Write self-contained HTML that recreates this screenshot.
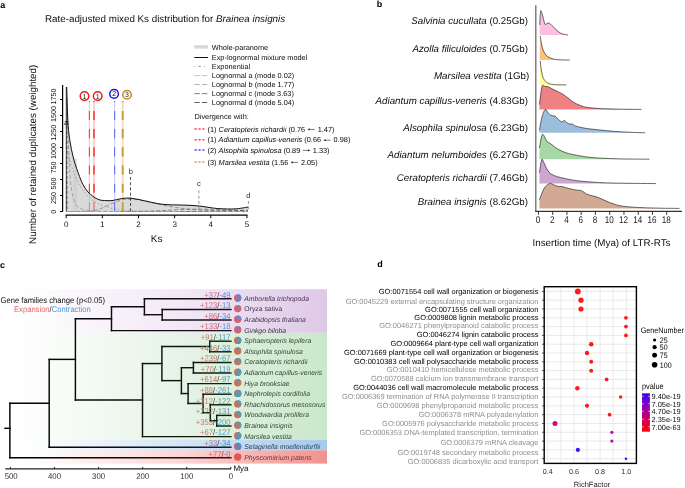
<!DOCTYPE html>
<html><head><meta charset="utf-8"><style>
html,body{margin:0;padding:0;background:#fff;width:685px;height:488px;overflow:hidden}
svg{display:block;font-family:"Liberation Sans", sans-serif;will-change:transform;text-rendering:geometricPrecision}
</style></head><body>
<svg width="685" height="488" viewBox="0 0 685 488">
<rect width="685" height="488" fill="#fff"/>
<text x="0.30" y="7.60" font-size="9" text-anchor="start" fill="#000" font-weight="bold" font-style="normal" >a</text>
<text x="45.00" y="22.00" font-size="9.8" text-anchor="start" fill="#0d0d0d" font-weight="normal" font-style="normal" >Rate-adjusted mixed Ks distribution for <tspan font-style="italic">Brainea insignis</tspan></text>
<text transform="translate(35.6,154.3) rotate(-90)" font-size="9.8" text-anchor="middle" fill="#0d0d0d">Number of retained duplicates (weighted)</text>
<line x1="62.6" y1="85" x2="62.6" y2="211.8" stroke="#000" stroke-width="1.2"/>
<line x1="60" y1="211.50" x2="62.6" y2="211.50" stroke="#000" stroke-width="1"/>
<text transform="translate(55.8,211.70) rotate(-90)" font-size="7.2" text-anchor="middle" fill="#111">0</text>
<line x1="60" y1="195.50" x2="62.6" y2="195.50" stroke="#000" stroke-width="1"/>
<text transform="translate(55.8,197.90) rotate(-90)" font-size="7.2" text-anchor="middle" fill="#111">250</text>
<line x1="60" y1="179.50" x2="62.6" y2="179.50" stroke="#000" stroke-width="1"/>
<text transform="translate(55.8,183.40) rotate(-90)" font-size="7.2" text-anchor="middle" fill="#111">500</text>
<line x1="60" y1="163.50" x2="62.6" y2="163.50" stroke="#000" stroke-width="1"/>
<text transform="translate(55.8,167.50) rotate(-90)" font-size="7.2" text-anchor="middle" fill="#111">750</text>
<line x1="60" y1="147.50" x2="62.6" y2="147.50" stroke="#000" stroke-width="1"/>
<text transform="translate(55.8,151.00) rotate(-90)" font-size="7.2" text-anchor="middle" fill="#111">1000</text>
<line x1="60" y1="131.50" x2="62.6" y2="131.50" stroke="#000" stroke-width="1"/>
<text transform="translate(55.8,132.80) rotate(-90)" font-size="7.2" text-anchor="middle" fill="#111">1250</text>
<line x1="60" y1="115.50" x2="62.6" y2="115.50" stroke="#000" stroke-width="1"/>
<text transform="translate(55.8,114.00) rotate(-90)" font-size="7.2" text-anchor="middle" fill="#111">1500</text>
<line x1="60" y1="99.50" x2="62.6" y2="99.50" stroke="#000" stroke-width="1"/>
<text transform="translate(55.8,96.60) rotate(-90)" font-size="7.2" text-anchor="middle" fill="#111">1750</text>
<line x1="65.6" y1="215.2" x2="247.5" y2="215.2" stroke="#000" stroke-width="1.2"/>
<line x1="66.20" y1="215.2" x2="66.20" y2="218.2" stroke="#000" stroke-width="1"/>
<text x="66.20" y="227.00" font-size="8" text-anchor="middle" fill="#111" font-weight="normal" font-style="normal" >0</text>
<line x1="102.35" y1="215.2" x2="102.35" y2="218.2" stroke="#000" stroke-width="1"/>
<text x="102.35" y="227.00" font-size="8" text-anchor="middle" fill="#111" font-weight="normal" font-style="normal" >1</text>
<line x1="138.50" y1="215.2" x2="138.50" y2="218.2" stroke="#000" stroke-width="1"/>
<text x="138.50" y="227.00" font-size="8" text-anchor="middle" fill="#111" font-weight="normal" font-style="normal" >2</text>
<line x1="174.65" y1="215.2" x2="174.65" y2="218.2" stroke="#000" stroke-width="1"/>
<text x="174.65" y="227.00" font-size="8" text-anchor="middle" fill="#111" font-weight="normal" font-style="normal" >3</text>
<line x1="210.80" y1="215.2" x2="210.80" y2="218.2" stroke="#000" stroke-width="1"/>
<text x="210.80" y="227.00" font-size="8" text-anchor="middle" fill="#111" font-weight="normal" font-style="normal" >4</text>
<line x1="246.95" y1="215.2" x2="246.95" y2="218.2" stroke="#000" stroke-width="1"/>
<text x="246.95" y="227.00" font-size="8" text-anchor="middle" fill="#111" font-weight="normal" font-style="normal" >5</text>
<text x="156.70" y="242.30" font-size="10" text-anchor="middle" fill="#0d0d0d" font-weight="normal" font-style="normal" >Ks</text>
<line x1="89.4" y1="101" x2="89.4" y2="211.5" stroke="#fcc6c6" stroke-width="1.1"/>
<line x1="89.4" y1="101" x2="89.4" y2="102.2" stroke="#f06060" stroke-width="1.1"/>
<line x1="89.4" y1="110.9" x2="89.4" y2="211.5" stroke="#ff3a3a" stroke-width="1.1" stroke-dasharray="9.1,9.1"/>
<line x1="94.0" y1="101" x2="94.0" y2="211.5" stroke="#fcc6c6" stroke-width="1.6"/>
<line x1="94.0" y1="101" x2="94.0" y2="102.2" stroke="#f06060" stroke-width="1.6"/>
<line x1="94.0" y1="110.9" x2="94.0" y2="211.5" stroke="#ff3a3a" stroke-width="1.6" stroke-dasharray="9.1,9.1"/>
<path d="M66.2,211.5 L66.2,150 L66.70,87.00 C66.88,92.50 67.30,111.25 67.80,120.00 C68.30,128.75 68.73,133.02 69.70,139.50 C70.67,145.98 71.97,152.75 73.60,158.90 C75.23,165.05 77.93,172.12 79.50,176.40 C81.07,180.68 81.72,182.17 83.00,184.60 C84.28,187.03 85.90,189.33 87.20,191.00 C88.50,192.67 89.50,193.47 90.80,194.60 C92.10,195.73 93.47,196.90 95.00,197.80 C96.53,198.70 98.40,199.55 100.00,200.00 C101.60,200.45 102.60,200.40 104.60,200.50 C106.60,200.60 109.18,200.92 112.00,200.60 C114.82,200.28 118.50,199.02 121.50,198.60 C124.50,198.18 126.92,197.90 130.00,198.10 C133.08,198.30 136.67,199.15 140.00,199.80 C143.33,200.45 146.67,201.30 150.00,202.00 C153.33,202.70 156.67,203.53 160.00,204.00 C163.33,204.47 166.67,204.63 170.00,204.80 C173.33,204.97 176.67,204.92 180.00,205.00 C183.33,205.08 186.67,205.12 190.00,205.30 C193.33,205.48 196.67,205.72 200.00,206.10 C203.33,206.48 206.67,207.17 210.00,207.60 C213.33,208.03 215.83,208.48 220.00,208.70 C224.17,208.92 230.33,209.17 235.00,208.90 C239.67,208.63 245.83,207.40 248.00,207.10 L248,211.5 Z" fill="#c4c4c4" fill-opacity="0.62" stroke="none"/>
<rect x="73.5" y="158" width="3.5" height="53" fill="#c8c8c8" fill-opacity="0.5"/>
<line x1="114.6" y1="101" x2="114.6" y2="211.5" stroke="#cdcdf8" stroke-width="1.1"/>
<line x1="114.6" y1="101" x2="114.6" y2="102.2" stroke="#7a7af0" stroke-width="1.1"/>
<line x1="114.6" y1="110.9" x2="114.6" y2="211.5" stroke="#6e6ef0" stroke-width="1.1" stroke-dasharray="9.1,9.1"/>
<line x1="122.7" y1="101" x2="122.7" y2="211.5" stroke="#eedfbf" stroke-width="1.9"/>
<line x1="122.7" y1="101" x2="122.7" y2="102.2" stroke="#d0a858" stroke-width="1.9"/>
<line x1="122.7" y1="110.9" x2="122.7" y2="211.5" stroke="#c99c3c" stroke-width="1.9" stroke-dasharray="9.1,9.1"/>
<path d="M66.20,147.50 L67.20,151.58 L68.20,155.40 L69.20,158.97 L70.20,162.32 L71.20,165.46 L72.20,168.39 L73.20,171.14 L74.20,173.71 L75.20,176.12 L76.20,178.38 L77.20,180.49 L78.20,182.46 L79.20,184.32 L80.20,186.05 L81.20,187.67 L82.20,189.19 L83.20,190.61 L84.20,191.94 L85.20,193.19 L86.20,194.36 L87.20,195.45 L88.20,196.47 L89.20,197.43 L90.20,198.33 L91.20,199.17 L92.20,199.95 L93.20,200.69 L94.20,201.38 L95.20,202.02 L96.20,202.63 L97.20,203.19 L98.20,203.72 L99.20,204.22 L100.20,204.68 L101.20,205.12 L102.20,205.52 L103.20,205.90 L104.20,206.26 L105.20,206.60 L106.20,206.91 L107.20,207.20 L108.20,207.47 L109.20,207.73 L110.20,207.97 L111.20,208.20 L112.20,208.41 L113.20,208.60 L114.20,208.79 L115.20,208.96 L116.20,209.12 L117.20,209.27 L118.20,209.42 L119.20,209.55 L120.20,209.67 L121.20,209.79 L122.20,209.90 L123.20,210.00 L124.20,210.10 L125.20,210.19 L126.20,210.27 L127.20,210.35 L128.20,210.42 L129.20,210.49 L130.20,210.55 L131.20,210.62 L132.20,210.67 L133.20,210.72 L134.20,210.77 L135.20,210.82 L136.20,210.86 L137.20,210.90 L138.20,210.94 L139.20,210.98 L140.20,211.01 L141.20,211.04 L142.20,211.07 L143.20,211.10 L144.20,211.12 L145.20,211.15 L146.20,211.17 L147.20,211.19 L148.20,211.21 L149.20,211.23 L150.20,211.25 L151.20,211.26 L152.20,211.28 L153.20,211.29 L154.20,211.31 L155.20,211.32 L156.20,211.33 L157.20,211.34 L158.20,211.35 L159.20,211.36 L160.20,211.37 L161.20,211.38 L162.20,211.39 L163.20,211.39 L164.20,211.40 L165.20,211.41 L166.20,211.41 L167.20,211.42 L168.20,211.42 L169.20,211.43 L170.20,211.43 L171.20,211.44 L172.20,211.44 L173.20,211.44 L174.20,211.45 L175.20,211.45 L176.20,211.45 L177.20,211.46 L178.20,211.46 L179.20,211.46 L180.20,211.46 L181.20,211.47 L182.20,211.47 L183.20,211.47 L184.20,211.47 L185.20,211.47 L186.20,211.48 L187.20,211.48 L188.20,211.48 L189.20,211.48 L190.20,211.48 L191.20,211.48 L192.20,211.48 L193.20,211.49 L194.20,211.49 L195.20,211.49 L196.20,211.49 L197.20,211.49 L198.20,211.49 L199.20,211.49" fill="none" stroke="#666" stroke-width="0.7" stroke-dasharray="1,2.5"/>
<path d="M66.50,128.64 L67.00,97.91 L67.50,112.55 L68.00,130.61 L68.50,145.91 L69.00,158.02 L69.50,167.49 L70.00,174.94 L70.50,180.83 L71.00,185.55 L71.50,189.37 L72.00,192.48 L72.50,195.05 L73.00,197.19 L73.50,198.98 L74.00,200.49 L74.50,201.77 L75.00,202.86 L75.50,203.80 L76.00,204.62 L76.50,205.32 L77.00,205.94 L77.50,206.48 L78.00,206.95 L78.50,207.37 L79.00,207.74 L79.50,208.07 L80.00,208.36 L80.50,208.63 L81.00,208.86 L81.50,209.07 L82.00,209.26 L82.50,209.43 L83.00,209.59 L83.50,209.73 L84.00,209.86 L84.50,209.97 L85.00,210.08 L85.50,210.18 L86.00,210.27 L86.50,210.35 L87.00,210.42 L87.50,210.49 L88.00,210.56 L88.50,210.61 L89.00,210.67 L89.50,210.72 L90.00,210.76 L90.50,210.81 L91.00,210.85 L91.50,210.88 L92.00,210.92 L92.50,210.95 L93.00,210.98 L93.50,211.01 L94.00,211.04 L94.50,211.06 L95.00,211.08 L95.50,211.10 L96.00,211.12 L96.50,211.14 L97.00,211.16 L97.50,211.18 L98.00,211.19 L98.50,211.21 L99.00,211.22 L99.50,211.23 L100.00,211.25 L100.50,211.26 L101.00,211.27 L101.50,211.28 L102.00,211.29 L102.50,211.30 L103.00,211.31 L103.50,211.32 L104.00,211.32 L104.50,211.33 L105.00,211.34 L105.50,211.34 L106.00,211.35 L106.50,211.36 L107.00,211.36 L107.50,211.37 L108.00,211.37 L108.50,211.38 L109.00,211.38 L109.50,211.39 L110.00,211.39 L110.50,211.40 L111.00,211.40 L111.50,211.40 L112.00,211.41 L112.50,211.41 L113.00,211.41 L113.50,211.42 L114.00,211.42 L114.50,211.42 L115.00,211.43 L115.50,211.43 L116.00,211.43 L116.50,211.43 L117.00,211.44 L117.50,211.44 L118.00,211.44 L118.50,211.44 L119.00,211.44 L119.50,211.45 L120.00,211.45 L120.50,211.45 L121.00,211.45 L121.50,211.45 L122.00,211.45 L122.50,211.45 L123.00,211.46 L123.50,211.46 L124.00,211.46 L124.50,211.46 L125.00,211.46 L125.50,211.46 L126.00,211.46 L126.50,211.46 L127.00,211.47 L127.50,211.47 L128.00,211.47 L128.50,211.47 L129.00,211.47 L129.50,211.47 L130.00,211.47 L130.50,211.47 L131.00,211.47 L131.50,211.47 L132.00,211.47 L132.50,211.48 L133.00,211.48 L133.50,211.48 L134.00,211.48 L134.50,211.48 L135.00,211.48 L135.50,211.48 L136.00,211.48 L136.50,211.48 L137.00,211.48 L137.50,211.48 L138.00,211.48 L138.50,211.48 L139.00,211.48 L139.50,211.48 L140.00,211.48 L140.50,211.48 L141.00,211.48 L141.50,211.48 L142.00,211.49 L142.50,211.49 L143.00,211.49 L143.50,211.49 L144.00,211.49 L144.50,211.49 L145.00,211.49 L145.50,211.49 L146.00,211.49 L146.50,211.49 L147.00,211.49 L147.50,211.49 L148.00,211.49 L148.50,211.49 L149.00,211.49 L149.50,211.49 L150.00,211.49 L150.50,211.49 L151.00,211.49 L151.50,211.49 L152.00,211.49 L152.50,211.49 L153.00,211.49 L153.50,211.49 L154.00,211.49 L154.50,211.49 L155.00,211.49 L155.50,211.49 L156.00,211.49 L156.50,211.49 L157.00,211.49 L157.50,211.49 L158.00,211.49 L158.50,211.49 L159.00,211.49 L159.50,211.49 L160.00,211.49 L160.50,211.49 L161.00,211.49 L161.50,211.49 L162.00,211.49 L162.50,211.49 L163.00,211.49 L163.50,211.49 L164.00,211.49 L164.50,211.49 L165.00,211.49 L165.50,211.49 L166.00,211.49 L166.50,211.50 L167.00,211.50 L167.50,211.50 L168.00,211.50 L168.50,211.50 L169.00,211.50 L169.50,211.50 L170.00,211.50 L170.50,211.50 L171.00,211.50 L171.50,211.50 L172.00,211.50 L172.50,211.50 L173.00,211.50 L173.50,211.50 L174.00,211.50 L174.50,211.50 L175.00,211.50 L175.50,211.50 L176.00,211.50 L176.50,211.50 L177.00,211.50 L177.50,211.50 L178.00,211.50 L178.50,211.50 L179.00,211.50 L179.50,211.50 L180.00,211.50 L180.50,211.50 L181.00,211.50 L181.50,211.50 L182.00,211.50 L182.50,211.50 L183.00,211.50 L183.50,211.50 L184.00,211.50 L184.50,211.50 L185.00,211.50 L185.50,211.50 L186.00,211.50 L186.50,211.50 L187.00,211.50 L187.50,211.50 L188.00,211.50 L188.50,211.50 L189.00,211.50 L189.50,211.50 L190.00,211.50 L190.50,211.50 L191.00,211.50 L191.50,211.50 L192.00,211.50 L192.50,211.50 L193.00,211.50 L193.50,211.50 L194.00,211.50 L194.50,211.50 L195.00,211.50 L195.50,211.50 L196.00,211.50 L196.50,211.50 L197.00,211.50 L197.50,211.50 L198.00,211.50 L198.50,211.50 L199.00,211.50 L199.50,211.50 L200.00,211.50 L200.50,211.50 L201.00,211.50 L201.50,211.50 L202.00,211.50 L202.50,211.50 L203.00,211.50 L203.50,211.50 L204.00,211.50 L204.50,211.50 L205.00,211.50 L205.50,211.50 L206.00,211.50 L206.50,211.50 L207.00,211.50 L207.50,211.50 L208.00,211.50 L208.50,211.50 L209.00,211.50 L209.50,211.50 L210.00,211.50 L210.50,211.50 L211.00,211.50 L211.50,211.50 L212.00,211.50 L212.50,211.50 L213.00,211.50 L213.50,211.50 L214.00,211.50 L214.50,211.50 L215.00,211.50 L215.50,211.50 L216.00,211.50 L216.50,211.50 L217.00,211.50 L217.50,211.50 L218.00,211.50 L218.50,211.50 L219.00,211.50 L219.50,211.50 L220.00,211.50 L220.50,211.50 L221.00,211.50 L221.50,211.50 L222.00,211.50 L222.50,211.50 L223.00,211.50 L223.50,211.50 L224.00,211.50 L224.50,211.50 L225.00,211.50 L225.50,211.50 L226.00,211.50 L226.50,211.50 L227.00,211.50 L227.50,211.50 L228.00,211.50 L228.50,211.50 L229.00,211.50 L229.50,211.50 L230.00,211.50 L230.50,211.50 L231.00,211.50 L231.50,211.50 L232.00,211.50 L232.50,211.50 L233.00,211.50 L233.50,211.50 L234.00,211.50 L234.50,211.50 L235.00,211.50 L235.50,211.50 L236.00,211.50 L236.50,211.50 L237.00,211.50 L237.50,211.50 L238.00,211.50 L238.50,211.50 L239.00,211.50 L239.50,211.50 L240.00,211.50 L240.50,211.50 L241.00,211.50 L241.50,211.50 L242.00,211.50 L242.50,211.50 L243.00,211.50 L243.50,211.50 L244.00,211.50 L244.50,211.50 L245.00,211.50 L245.50,211.50 L246.00,211.50 L246.50,211.50 L247.00,211.50 L247.50,211.50 L248.00,211.50" fill="none" stroke="#888" stroke-width="0.7" stroke-dasharray="4,2"/>
<path d="M70.00,211.50 L71.00,211.50 L72.00,211.50 L73.00,211.50 L74.00,211.50 L75.00,211.50 L76.00,211.50 L77.00,211.50 L78.00,211.50 L79.00,211.50 L80.00,211.50 L81.00,211.50 L82.00,211.49 L83.00,211.49 L84.00,211.48 L85.00,211.46 L86.00,211.44 L87.00,211.41 L88.00,211.36 L89.00,211.30 L90.00,211.22 L91.00,211.11 L92.00,210.99 L93.00,210.83 L94.00,210.65 L95.00,210.44 L96.00,210.20 L97.00,209.92 L98.00,209.62 L99.00,209.29 L100.00,208.93 L101.00,208.54 L102.00,208.13 L103.00,207.69 L104.00,207.24 L105.00,206.78 L106.00,206.31 L107.00,205.83 L108.00,205.34 L109.00,204.86 L110.00,204.38 L111.00,203.91 L112.00,203.45 L113.00,203.00 L114.00,202.57 L115.00,202.16 L116.00,201.77 L117.00,201.41 L118.00,201.07 L119.00,200.75 L120.00,200.46 L121.00,200.20 L122.00,199.97 L123.00,199.77 L124.00,199.59 L125.00,199.44 L126.00,199.32 L127.00,199.23 L128.00,199.16 L129.00,199.12 L130.00,199.11 L131.00,199.11 L132.00,199.14 L133.00,199.20 L134.00,199.27 L135.00,199.36 L136.00,199.46 L137.00,199.59 L138.00,199.73 L139.00,199.88 L140.00,200.04 L141.00,200.22 L142.00,200.41 L143.00,200.60 L144.00,200.81 L145.00,201.02 L146.00,201.23 L147.00,201.45 L148.00,201.68 L149.00,201.91 L150.00,202.14 L151.00,202.37 L152.00,202.61 L153.00,202.84 L154.00,203.08 L155.00,203.31 L156.00,203.54 L157.00,203.77 L158.00,204.00 L159.00,204.23 L160.00,204.45 L161.00,204.67 L162.00,204.89 L163.00,205.10 L164.00,205.31 L165.00,205.52 L166.00,205.72 L167.00,205.91 L168.00,206.11 L169.00,206.29 L170.00,206.48 L171.00,206.65 L172.00,206.83 L173.00,207.00 L174.00,207.16 L175.00,207.32 L176.00,207.48 L177.00,207.63 L178.00,207.77 L179.00,207.91 L180.00,208.05 L181.00,208.18 L182.00,208.31 L183.00,208.44 L184.00,208.56 L185.00,208.67 L186.00,208.78 L187.00,208.89 L188.00,208.99 L189.00,209.09 L190.00,209.19 L191.00,209.28 L192.00,209.37 L193.00,209.46 L194.00,209.54 L195.00,209.62 L196.00,209.70 L197.00,209.78 L198.00,209.85 L199.00,209.92 L200.00,209.98 L201.00,210.04 L202.00,210.11 L203.00,210.16 L204.00,210.22 L205.00,210.27 L206.00,210.33 L207.00,210.38 L208.00,210.42 L209.00,210.47 L210.00,210.51 L211.00,210.55 L212.00,210.59 L213.00,210.63 L214.00,210.67 L215.00,210.71 L216.00,210.74 L217.00,210.77 L218.00,210.80 L219.00,210.83 L220.00,210.86 L221.00,210.89 L222.00,210.92 L223.00,210.94 L224.00,210.97 L225.00,210.99 L226.00,211.01 L227.00,211.03 L228.00,211.05 L229.00,211.07 L230.00,211.09 L231.00,211.11 L232.00,211.12 L233.00,211.14 L234.00,211.16 L235.00,211.17 L236.00,211.19 L237.00,211.20 L238.00,211.21 L239.00,211.22 L240.00,211.24 L241.00,211.25 L242.00,211.26 L243.00,211.27 L244.00,211.28 L245.00,211.29 L246.00,211.30 L247.00,211.31 L248.00,211.32" fill="none" stroke="#777" stroke-width="0.7" stroke-dasharray="4,2"/>
<path d="M120.00,211.50 L121.00,211.50 L122.00,211.50 L123.00,211.50 L124.00,211.50 L125.00,211.50 L126.00,211.50 L127.00,211.49 L128.00,211.49 L129.00,211.49 L130.00,211.49 L131.00,211.49 L132.00,211.48 L133.00,211.48 L134.00,211.47 L135.00,211.47 L136.00,211.46 L137.00,211.45 L138.00,211.45 L139.00,211.44 L140.00,211.42 L141.00,211.41 L142.00,211.40 L143.00,211.38 L144.00,211.36 L145.00,211.34 L146.00,211.32 L147.00,211.29 L148.00,211.27 L149.00,211.24 L150.00,211.21 L151.00,211.17 L152.00,211.14 L153.00,211.10 L154.00,211.06 L155.00,211.02 L156.00,210.97 L157.00,210.92 L158.00,210.87 L159.00,210.82 L160.00,210.77 L161.00,210.71 L162.00,210.66 L163.00,210.60 L164.00,210.54 L165.00,210.48 L166.00,210.42 L167.00,210.36 L168.00,210.30 L169.00,210.24 L170.00,210.17 L171.00,210.11 L172.00,210.05 L173.00,209.99 L174.00,209.93 L175.00,209.87 L176.00,209.81 L177.00,209.76 L178.00,209.70 L179.00,209.65 L180.00,209.60 L181.00,209.55 L182.00,209.51 L183.00,209.47 L184.00,209.42 L185.00,209.39 L186.00,209.35 L187.00,209.32 L188.00,209.29 L189.00,209.26 L190.00,209.24 L191.00,209.22 L192.00,209.20 L193.00,209.19 L194.00,209.18 L195.00,209.17 L196.00,209.16 L197.00,209.16 L198.00,209.16 L199.00,209.16 L200.00,209.17 L201.00,209.18 L202.00,209.19 L203.00,209.20 L204.00,209.22 L205.00,209.23 L206.00,209.25 L207.00,209.28 L208.00,209.30 L209.00,209.33 L210.00,209.35 L211.00,209.38 L212.00,209.41 L213.00,209.44 L214.00,209.48 L215.00,209.51 L216.00,209.55 L217.00,209.58 L218.00,209.62 L219.00,209.66 L220.00,209.70 L221.00,209.73 L222.00,209.77 L223.00,209.81 L224.00,209.85 L225.00,209.89 L226.00,209.93 L227.00,209.97 L228.00,210.01 L229.00,210.05 L230.00,210.09 L231.00,210.13 L232.00,210.17 L233.00,210.21 L234.00,210.25 L235.00,210.28 L236.00,210.32 L237.00,210.36 L238.00,210.39 L239.00,210.43 L240.00,210.46 L241.00,210.50 L242.00,210.53 L243.00,210.57 L244.00,210.60 L245.00,210.63 L246.00,210.66 L247.00,210.69 L248.00,210.72" fill="none" stroke="#666" stroke-width="0.7" stroke-dasharray="4,2"/>
<path d="M180.00,211.50 L181.00,211.50 L182.00,211.50 L183.00,211.50 L184.00,211.50 L185.00,211.50 L186.00,211.50 L187.00,211.50 L188.00,211.50 L189.00,211.49 L190.00,211.49 L191.00,211.49 L192.00,211.49 L193.00,211.49 L194.00,211.48 L195.00,211.48 L196.00,211.48 L197.00,211.47 L198.00,211.47 L199.00,211.46 L200.00,211.45 L201.00,211.45 L202.00,211.44 L203.00,211.43 L204.00,211.42 L205.00,211.40 L206.00,211.39 L207.00,211.37 L208.00,211.36 L209.00,211.34 L210.00,211.32 L211.00,211.30 L212.00,211.28 L213.00,211.25 L214.00,211.22 L215.00,211.20 L216.00,211.17 L217.00,211.14 L218.00,211.10 L219.00,211.07 L220.00,211.04 L221.00,211.00 L222.00,210.96 L223.00,210.92 L224.00,210.89 L225.00,210.85 L226.00,210.81 L227.00,210.77 L228.00,210.73 L229.00,210.69 L230.00,210.65 L231.00,210.61 L232.00,210.58 L233.00,210.54 L234.00,210.51 L235.00,210.47 L236.00,210.44 L237.00,210.41 L238.00,210.38 L239.00,210.36 L240.00,210.34 L241.00,210.32 L242.00,210.30 L243.00,210.28 L244.00,210.27 L245.00,210.26 L246.00,210.25 L247.00,210.25 L248.00,210.24" fill="none" stroke="#555" stroke-width="0.7" stroke-dasharray="4,2"/>
<path d="M66.70,87.00 C66.88,92.50 67.30,111.25 67.80,120.00 C68.30,128.75 68.73,133.02 69.70,139.50 C70.67,145.98 71.97,152.75 73.60,158.90 C75.23,165.05 77.93,172.12 79.50,176.40 C81.07,180.68 81.72,182.17 83.00,184.60 C84.28,187.03 85.90,189.33 87.20,191.00 C88.50,192.67 89.50,193.47 90.80,194.60 C92.10,195.73 93.47,196.90 95.00,197.80 C96.53,198.70 98.40,199.55 100.00,200.00 C101.60,200.45 102.60,200.40 104.60,200.50 C106.60,200.60 109.18,200.92 112.00,200.60 C114.82,200.28 118.50,199.02 121.50,198.60 C124.50,198.18 126.92,197.90 130.00,198.10 C133.08,198.30 136.67,199.15 140.00,199.80 C143.33,200.45 146.67,201.30 150.00,202.00 C153.33,202.70 156.67,203.53 160.00,204.00 C163.33,204.47 166.67,204.63 170.00,204.80 C173.33,204.97 176.67,204.92 180.00,205.00 C183.33,205.08 186.67,205.12 190.00,205.30 C193.33,205.48 196.67,205.72 200.00,206.10 C203.33,206.48 206.67,207.17 210.00,207.60 C213.33,208.03 215.83,208.48 220.00,208.70 C224.17,208.92 230.33,209.17 235.00,208.90 C239.67,208.63 245.83,207.40 248.00,207.10" fill="none" stroke="#111" stroke-width="1.0"/>
<line x1="66.3" y1="87" x2="66.3" y2="211.5" stroke="#111" stroke-width="0.8"/>
<line x1="62.6" y1="213.3" x2="250" y2="213.3" stroke="#fff" stroke-width="1.2"/>
<line x1="66.4" y1="211.5" x2="248" y2="211.5" stroke="#888" stroke-width="0.6" stroke-dasharray="4,2"/>
<line x1="66.9" y1="126" x2="66.9" y2="211.5" stroke="#333" stroke-width="0.8" stroke-dasharray="3,2"/>
<text x="66.20" y="124.80" font-size="7.5" text-anchor="middle" fill="#050505" font-weight="normal" font-style="normal" >a</text>
<line x1="130.5" y1="177" x2="130.5" y2="211.5" stroke="#222" stroke-width="0.8" stroke-dasharray="3,2.2"/>
<text x="130.90" y="174.00" font-size="7.5" text-anchor="middle" fill="#222" font-weight="normal" font-style="normal" >b</text>
<line x1="198.9" y1="190.4" x2="198.9" y2="211.5" stroke="#888" stroke-width="0.9" stroke-dasharray="3,2.2"/>
<text x="198.90" y="186.00" font-size="7.5" text-anchor="middle" fill="#222" font-weight="normal" font-style="normal" >c</text>
<line x1="248.4" y1="201" x2="248.4" y2="211.5" stroke="#888" stroke-width="0.9" stroke-dasharray="3,2.2"/>
<text x="248.40" y="197.80" font-size="7.5" text-anchor="middle" fill="#222" font-weight="normal" font-style="normal" >d</text>
<circle cx="84.5" cy="96.1" r="4.3" fill="#fff" stroke="#ee1c1c" stroke-width="1.5"/>
<text x="84.50" y="98.60" font-size="7.0" text-anchor="middle" fill="#111" font-weight="normal" font-style="normal" >1</text>
<circle cx="97.7" cy="96.1" r="4.3" fill="#fff" stroke="#ee1c1c" stroke-width="1.5"/>
<text x="97.70" y="98.60" font-size="7.0" text-anchor="middle" fill="#111" font-weight="normal" font-style="normal" >1</text>
<circle cx="114.1" cy="93.9" r="4.3" fill="#fff" stroke="#1a1ad6" stroke-width="1.5"/>
<text x="114.10" y="96.40" font-size="7.0" text-anchor="middle" fill="#111" font-weight="normal" font-style="normal" >2</text>
<circle cx="127" cy="94.7" r="4.3" fill="#fff" stroke="#c48a1e" stroke-width="1.5"/>
<text x="127.00" y="97.20" font-size="7.0" text-anchor="middle" fill="#111" font-weight="normal" font-style="normal" >3</text>
<line x1="194.3" y1="46.9" x2="208" y2="46.9" stroke="#d8d8d8" stroke-width="3.5"/>
<line x1="194.3" y1="57.5" x2="208" y2="57.5" stroke="#111" stroke-width="1"/>
<line x1="194.3" y1="66.4" x2="208" y2="66.4" stroke="#777" stroke-width="0.8" stroke-dasharray="0.8,3.2,2.5,3.2" stroke-dashoffset="0"/>
<line x1="194.3" y1="75.6" x2="208" y2="75.6" stroke="#bdbdbd" stroke-width="0.9" stroke-dasharray="5.5,2"/>
<line x1="194.3" y1="84.5" x2="208" y2="84.5" stroke="#aaaaaa" stroke-width="0.9" stroke-dasharray="5.5,2"/>
<line x1="194.3" y1="93.6" x2="208" y2="93.6" stroke="#707070" stroke-width="0.9" stroke-dasharray="5.5,2"/>
<line x1="194.3" y1="102.5" x2="208" y2="102.5" stroke="#505050" stroke-width="0.9" stroke-dasharray="5.5,2"/>
<text x="211.80" y="49.50" font-size="7.35" text-anchor="start" fill="#0d0d0d" font-weight="normal" font-style="normal" >Whole-paranome</text>
<text x="211.80" y="59.60" font-size="7.35" text-anchor="start" fill="#0d0d0d" font-weight="normal" font-style="normal" >Exp-lognormal mixture model</text>
<text x="211.80" y="69.00" font-size="7.35" text-anchor="start" fill="#0d0d0d" font-weight="normal" font-style="normal" >Exponential</text>
<text x="211.80" y="78.20" font-size="7.35" text-anchor="start" fill="#0d0d0d" font-weight="normal" font-style="normal" >Lognormal a (mode 0.02)</text>
<text x="211.80" y="87.10" font-size="7.35" text-anchor="start" fill="#0d0d0d" font-weight="normal" font-style="normal" >Lognormal b (mode 1.77)</text>
<text x="211.80" y="96.20" font-size="7.35" text-anchor="start" fill="#0d0d0d" font-weight="normal" font-style="normal" >Lognormal c (mode 3.63)</text>
<text x="211.80" y="105.10" font-size="7.35" text-anchor="start" fill="#0d0d0d" font-weight="normal" font-style="normal" >Lognormal d (mode 5.04)</text>
<text x="194.50" y="119.10" font-size="7.35" text-anchor="start" fill="#0d0d0d" font-weight="normal" font-style="normal" >Divergence with:</text>
<line x1="194.5" y1="129.0" x2="204.5" y2="129.0" stroke="#ff4d4d" stroke-width="1.4" stroke-dasharray="2.3,1.6"/>
<text x="207.60" y="131.60" font-size="7.35" text-anchor="start" fill="#050505" font-weight="normal" font-style="normal" >(1) <tspan font-style="italic">Ceratopteris richardii</tspan> (0.76</text>
<line x1="307.80" y1="129.40" x2="314.80" y2="129.40" stroke="#222" stroke-width="0.6"/>
<path d="M307.80,129.40 l1.9,-1.05 l0,2.1 z" fill="#222"/>
<text x="317.70" y="131.60" font-size="7.35" text-anchor="start" fill="#050505" font-weight="normal" font-style="normal" >1.47)</text>
<line x1="194.5" y1="139.8" x2="204.5" y2="139.8" stroke="#ff4d4d" stroke-width="1.4" stroke-dasharray="2.3,1.6"/>
<text x="207.60" y="142.40" font-size="7.35" text-anchor="start" fill="#050505" font-weight="normal" font-style="normal" >(1) <tspan font-style="italic">Adiantum capillus-veneris</tspan> (0.66</text>
<line x1="323.70" y1="140.20" x2="330.70" y2="140.20" stroke="#222" stroke-width="0.6"/>
<path d="M323.70,140.20 l1.9,-1.05 l0,2.1 z" fill="#222"/>
<text x="333.60" y="142.40" font-size="7.35" text-anchor="start" fill="#050505" font-weight="normal" font-style="normal" >0.98)</text>
<line x1="194.5" y1="150.0" x2="204.5" y2="150.0" stroke="#5050ee" stroke-width="1.4" stroke-dasharray="2.3,1.6"/>
<text x="207.60" y="152.60" font-size="7.35" text-anchor="start" fill="#050505" font-weight="normal" font-style="normal" >(2) <tspan font-style="italic">Alsophila spinulosa</tspan> (0.89</text>
<line x1="302.90" y1="150.40" x2="309.90" y2="150.40" stroke="#222" stroke-width="0.6"/>
<path d="M309.90,150.40 l-1.9,-1.05 l0,2.1 z" fill="#222"/>
<text x="312.80" y="152.60" font-size="7.35" text-anchor="start" fill="#050505" font-weight="normal" font-style="normal" >1.33)</text>
<line x1="194.5" y1="162.0" x2="204.5" y2="162.0" stroke="#c9a85e" stroke-width="1.4" stroke-dasharray="2.3,1.6"/>
<text x="207.60" y="164.60" font-size="7.35" text-anchor="start" fill="#050505" font-weight="normal" font-style="normal" >(3) <tspan font-style="italic">Marsilea vestita</tspan> (1.56</text>
<line x1="291.00" y1="162.40" x2="298.00" y2="162.40" stroke="#222" stroke-width="0.6"/>
<path d="M291.00,162.40 l1.9,-1.05 l0,2.1 z" fill="#222"/>
<text x="300.90" y="164.60" font-size="7.35" text-anchor="start" fill="#050505" font-weight="normal" font-style="normal" >2.05)</text>
<text x="376.70" y="7.20" font-size="9" text-anchor="start" fill="#000" font-weight="bold" font-style="normal" >b</text>
<line x1="535.8" y1="5.2" x2="535.8" y2="211.7" stroke="#6a6a6a" stroke-width="1.3"/>
<line x1="535.2" y1="211.4" x2="682" y2="211.4" stroke="#333" stroke-width="1.15"/>
<line x1="538.40" y1="211.4" x2="538.40" y2="214.8" stroke="#333" stroke-width="1"/>
<text transform="translate(537.90,222.80) scale(1,1.2)" font-size="8.1" text-anchor="middle" fill="#222" font-weight="normal" font-style="normal" >0</text>
<line x1="552.66" y1="211.4" x2="552.66" y2="214.8" stroke="#333" stroke-width="1"/>
<text transform="translate(552.16,222.80) scale(1,1.2)" font-size="8.1" text-anchor="middle" fill="#222" font-weight="normal" font-style="normal" >2</text>
<line x1="566.92" y1="211.4" x2="566.92" y2="214.8" stroke="#333" stroke-width="1"/>
<text transform="translate(566.42,222.80) scale(1,1.2)" font-size="8.1" text-anchor="middle" fill="#222" font-weight="normal" font-style="normal" >4</text>
<line x1="581.18" y1="211.4" x2="581.18" y2="214.8" stroke="#333" stroke-width="1"/>
<text transform="translate(580.68,222.80) scale(1,1.2)" font-size="8.1" text-anchor="middle" fill="#222" font-weight="normal" font-style="normal" >6</text>
<line x1="595.44" y1="211.4" x2="595.44" y2="214.8" stroke="#333" stroke-width="1"/>
<text transform="translate(594.94,222.80) scale(1,1.2)" font-size="8.1" text-anchor="middle" fill="#222" font-weight="normal" font-style="normal" >8</text>
<line x1="609.70" y1="211.4" x2="609.70" y2="214.8" stroke="#333" stroke-width="1"/>
<text transform="translate(609.20,222.80) scale(1,1.2)" font-size="8.1" text-anchor="middle" fill="#222" font-weight="normal" font-style="normal" >10</text>
<line x1="623.96" y1="211.4" x2="623.96" y2="214.8" stroke="#333" stroke-width="1"/>
<text transform="translate(623.46,222.80) scale(1,1.2)" font-size="8.1" text-anchor="middle" fill="#222" font-weight="normal" font-style="normal" >12</text>
<line x1="638.22" y1="211.4" x2="638.22" y2="214.8" stroke="#333" stroke-width="1"/>
<text transform="translate(637.72,222.80) scale(1,1.2)" font-size="8.1" text-anchor="middle" fill="#222" font-weight="normal" font-style="normal" >14</text>
<line x1="652.48" y1="211.4" x2="652.48" y2="214.8" stroke="#333" stroke-width="1"/>
<text transform="translate(651.98,222.80) scale(1,1.2)" font-size="8.1" text-anchor="middle" fill="#222" font-weight="normal" font-style="normal" >16</text>
<line x1="666.74" y1="211.4" x2="666.74" y2="214.8" stroke="#333" stroke-width="1"/>
<text transform="translate(666.24,222.80) scale(1,1.2)" font-size="8.1" text-anchor="middle" fill="#222" font-weight="normal" font-style="normal" >18</text>
<text x="601.50" y="245.60" font-size="9.8" text-anchor="middle" fill="#0d0d0d" font-weight="normal" font-style="normal" >Insertion time (Mya) of LTR-RTs</text>
<path d="M539.6500000000001,35.1 L539.75,25 C539.90,22.68 540.20,12.77 540.65,11.10 C541.10,9.43 541.75,12.85 542.45,15.00 C543.15,17.15 544.10,22.57 544.85,24.00 C545.60,25.43 546.23,23.75 546.95,23.60 C547.67,23.45 548.32,22.77 549.15,23.10 C549.98,23.43 550.97,24.68 551.95,25.60 C552.93,26.52 553.62,27.33 555.05,28.60 C556.48,29.87 558.40,32.12 560.55,33.20 C562.70,34.28 566.72,34.78 567.95,35.10 L567.95,35.1 Z" fill="#fbc0df" stroke="none"/>
<path d="M539.75,25.00 C539.90,22.68 540.20,12.77 540.65,11.10 C541.10,9.43 541.75,12.85 542.45,15.00 C543.15,17.15 544.10,22.57 544.85,24.00 C545.60,25.43 546.23,23.75 546.95,23.60 C547.67,23.45 548.32,22.77 549.15,23.10 C549.98,23.43 550.97,24.68 551.95,25.60 C552.93,26.52 553.62,27.33 555.05,28.60 C556.48,29.87 558.40,32.12 560.55,33.20 C562.70,34.28 566.72,34.78 567.95,35.10" fill="none" stroke="#2a2a2a" stroke-width="0.7"/>
<text x="527.90" y="23.50" font-size="9.75" text-anchor="end" fill="#0d0d0d" font-weight="normal" font-style="normal" ><tspan font-style="italic">Salvinia cucullata</tspan> (0.25Gb)</text>
<path d="M539.6500000000001,60.1 L540.25,36 C540.45,37.33 540.98,41.70 541.45,44.00 C541.92,46.30 542.45,48.17 543.05,49.80 C543.65,51.43 544.28,52.67 545.05,53.80 C545.82,54.93 546.30,55.73 547.65,56.60 C549.00,57.47 551.35,58.47 553.15,59.00 C554.95,59.53 555.68,59.62 558.45,59.80 C561.22,59.98 567.87,60.05 569.75,60.10 L569.75,60.1 Z" fill="#ffbf80" stroke="none"/>
<path d="M540.25,36.00 C540.45,37.33 540.98,41.70 541.45,44.00 C541.92,46.30 542.45,48.17 543.05,49.80 C543.65,51.43 544.28,52.67 545.05,53.80 C545.82,54.93 546.30,55.73 547.65,56.60 C549.00,57.47 551.35,58.47 553.15,59.00 C554.95,59.53 555.68,59.62 558.45,59.80 C561.22,59.98 567.87,60.05 569.75,60.10" fill="none" stroke="#2a2a2a" stroke-width="0.7"/>
<text x="527.90" y="51.60" font-size="9.75" text-anchor="end" fill="#0d0d0d" font-weight="normal" font-style="normal" ><tspan font-style="italic">Azolla filiculoides</tspan> (0.75Gb)</text>
<path d="M539.6500000000001,84.9 L540.25,60.9 C540.45,62.58 540.98,68.23 541.45,71.00 C541.92,73.77 542.45,75.87 543.05,77.50 C543.65,79.13 544.28,79.88 545.05,80.80 C545.82,81.72 546.25,82.37 547.65,83.00 C549.05,83.63 550.32,84.28 553.45,84.60 C556.58,84.92 564.28,84.85 566.45,84.90 L566.45,84.9 Z" fill="#ffff99" stroke="none"/>
<path d="M540.25,60.90 C540.45,62.58 540.98,68.23 541.45,71.00 C541.92,73.77 542.45,75.87 543.05,77.50 C543.65,79.13 544.28,79.88 545.05,80.80 C545.82,81.72 546.25,82.37 547.65,83.00 C549.05,83.63 550.32,84.28 553.45,84.60 C556.58,84.92 564.28,84.85 566.45,84.90" fill="none" stroke="#2a2a2a" stroke-width="0.7"/>
<text x="529.30" y="78.60" font-size="9.75" text-anchor="end" fill="#0d0d0d" font-weight="normal" font-style="normal" ><tspan font-style="italic">Marsilea vestita</tspan> (1Gb)</text>
<path d="M539.45,109.4 L539.45,104.6 C539.87,101.60 541.12,89.65 541.95,86.60 C542.78,83.55 543.53,86.30 544.45,86.30 C545.37,86.30 546.53,86.38 547.45,86.60 C548.37,86.82 548.95,87.10 549.95,87.60 C550.95,88.10 552.20,88.97 553.45,89.60 C554.70,90.23 556.03,90.72 557.45,91.40 C558.87,92.08 560.28,92.68 561.95,93.70 C563.62,94.72 565.50,96.05 567.45,97.50 C569.40,98.95 571.48,101.07 573.65,102.40 C575.82,103.73 578.27,104.68 580.45,105.50 C582.63,106.32 583.42,106.78 586.75,107.30 C590.08,107.82 594.83,108.28 600.45,108.60 C606.07,108.92 613.62,109.07 620.45,109.20 C627.28,109.33 637.95,109.37 641.45,109.40 L641.45,109.4 Z" fill="#f08182" stroke="none"/>
<path d="M539.45,104.60 C539.87,101.60 541.12,89.65 541.95,86.60 C542.78,83.55 543.53,86.30 544.45,86.30 C545.37,86.30 546.53,86.38 547.45,86.60 C548.37,86.82 548.95,87.10 549.95,87.60 C550.95,88.10 552.20,88.97 553.45,89.60 C554.70,90.23 556.03,90.72 557.45,91.40 C558.87,92.08 560.28,92.68 561.95,93.70 C563.62,94.72 565.50,96.05 567.45,97.50 C569.40,98.95 571.48,101.07 573.65,102.40 C575.82,103.73 578.27,104.68 580.45,105.50 C582.63,106.32 583.42,106.78 586.75,107.30 C590.08,107.82 594.83,108.28 600.45,108.60 C606.07,108.92 613.62,109.07 620.45,109.20 C627.28,109.33 637.95,109.37 641.45,109.40" fill="none" stroke="#2a2a2a" stroke-width="0.7"/>
<text x="527.90" y="104.20" font-size="9.75" text-anchor="end" fill="#0d0d0d" font-weight="normal" font-style="normal" ><tspan font-style="italic">Adiantum capillus-veneris</tspan> (4.83Gb)</text>
<path d="M539.45,132.8 L539.45,130.5 C539.87,128.25 541.00,120.50 541.95,117.00 C542.90,113.50 544.23,110.33 545.15,109.50 C546.07,108.67 546.57,111.05 547.45,112.00 C548.33,112.95 549.15,114.48 550.45,115.20 C551.75,115.92 553.92,115.58 555.25,116.30 C556.58,117.02 557.32,118.55 558.45,119.50 C559.58,120.45 561.07,121.87 562.05,122.00 C563.03,122.13 563.62,120.22 564.35,120.30 C565.08,120.38 565.52,121.85 566.45,122.50 C567.38,123.15 568.95,123.95 569.95,124.20 C570.95,124.45 571.53,123.70 572.45,124.00 C573.37,124.30 573.28,125.28 575.45,126.00 C577.62,126.72 581.67,127.67 585.45,128.30 C589.23,128.93 593.15,129.27 598.15,129.80 C603.15,130.33 610.07,131.08 615.45,131.50 C620.83,131.92 625.50,132.08 630.45,132.30 C635.40,132.52 642.70,132.72 645.15,132.80 L645.1500000000001,132.8 Z" fill="#9bbedc" stroke="none"/>
<path d="M539.45,130.50 C539.87,128.25 541.00,120.50 541.95,117.00 C542.90,113.50 544.23,110.33 545.15,109.50 C546.07,108.67 546.57,111.05 547.45,112.00 C548.33,112.95 549.15,114.48 550.45,115.20 C551.75,115.92 553.92,115.58 555.25,116.30 C556.58,117.02 557.32,118.55 558.45,119.50 C559.58,120.45 561.07,121.87 562.05,122.00 C563.03,122.13 563.62,120.22 564.35,120.30 C565.08,120.38 565.52,121.85 566.45,122.50 C567.38,123.15 568.95,123.95 569.95,124.20 C570.95,124.45 571.53,123.70 572.45,124.00 C573.37,124.30 573.28,125.28 575.45,126.00 C577.62,126.72 581.67,127.67 585.45,128.30 C589.23,128.93 593.15,129.27 598.15,129.80 C603.15,130.33 610.07,131.08 615.45,131.50 C620.83,131.92 625.50,132.08 630.45,132.30 C635.40,132.52 642.70,132.72 645.15,132.80" fill="none" stroke="#2a2a2a" stroke-width="0.7"/>
<text x="527.90" y="130.60" font-size="9.75" text-anchor="end" fill="#0d0d0d" font-weight="normal" font-style="normal" ><tspan font-style="italic">Alsophila spinulosa</tspan> (6.23Gb)</text>
<path d="M539.45,159.2 L539.45,148 C539.78,146.17 540.88,139.28 541.45,137.00 C542.02,134.72 542.27,134.22 542.85,134.30 C543.43,134.38 544.27,136.30 544.95,137.50 C545.63,138.70 545.98,140.45 546.95,141.50 C547.92,142.55 549.33,142.80 550.75,143.80 C552.17,144.80 553.57,146.25 555.45,147.50 C557.33,148.75 559.88,150.30 562.05,151.30 C564.22,152.30 566.22,152.88 568.45,153.50 C570.68,154.12 572.62,154.45 575.45,155.00 C578.28,155.55 581.67,156.30 585.45,156.80 C589.23,157.30 592.32,157.65 598.15,158.00 C603.98,158.35 611.90,158.70 620.45,158.90 C629.00,159.10 644.62,159.15 649.45,159.20 L649.45,159.2 Z" fill="#a6d7a4" stroke="none"/>
<path d="M539.45,148.00 C539.78,146.17 540.88,139.28 541.45,137.00 C542.02,134.72 542.27,134.22 542.85,134.30 C543.43,134.38 544.27,136.30 544.95,137.50 C545.63,138.70 545.98,140.45 546.95,141.50 C547.92,142.55 549.33,142.80 550.75,143.80 C552.17,144.80 553.57,146.25 555.45,147.50 C557.33,148.75 559.88,150.30 562.05,151.30 C564.22,152.30 566.22,152.88 568.45,153.50 C570.68,154.12 572.62,154.45 575.45,155.00 C578.28,155.55 581.67,156.30 585.45,156.80 C589.23,157.30 592.32,157.65 598.15,158.00 C603.98,158.35 611.90,158.70 620.45,158.90 C629.00,159.10 644.62,159.15 649.45,159.20" fill="none" stroke="#2a2a2a" stroke-width="0.7"/>
<text x="527.90" y="157.90" font-size="9.75" text-anchor="end" fill="#0d0d0d" font-weight="normal" font-style="normal" ><tspan font-style="italic">Adiantum nelumboides</tspan> (6.27Gb)</text>
<path d="M539.45,183.6 L539.45,172.7 C539.70,171.08 540.50,165.25 540.95,163.00 C541.40,160.75 541.57,159.03 542.15,159.20 C542.73,159.37 543.57,162.20 544.45,164.00 C545.33,165.80 546.40,168.37 547.45,170.00 C548.50,171.63 549.25,172.73 550.75,173.80 C552.25,174.87 554.18,175.63 556.45,176.40 C558.72,177.17 561.18,177.72 564.35,178.40 C567.52,179.08 571.70,179.95 575.45,180.50 C579.20,181.05 581.02,181.28 586.85,181.70 C592.68,182.12 598.90,182.68 610.45,183.00 C622.00,183.32 648.53,183.50 656.15,183.60 L656.1500000000001,183.6 Z" fill="#cca6d1" stroke="none"/>
<path d="M539.45,172.70 C539.70,171.08 540.50,165.25 540.95,163.00 C541.40,160.75 541.57,159.03 542.15,159.20 C542.73,159.37 543.57,162.20 544.45,164.00 C545.33,165.80 546.40,168.37 547.45,170.00 C548.50,171.63 549.25,172.73 550.75,173.80 C552.25,174.87 554.18,175.63 556.45,176.40 C558.72,177.17 561.18,177.72 564.35,178.40 C567.52,179.08 571.70,179.95 575.45,180.50 C579.20,181.05 581.02,181.28 586.85,181.70 C592.68,182.12 598.90,182.68 610.45,183.00 C622.00,183.32 648.53,183.50 656.15,183.60" fill="none" stroke="#2a2a2a" stroke-width="0.7"/>
<text x="527.90" y="180.70" font-size="9.75" text-anchor="end" fill="#0d0d0d" font-weight="normal" font-style="normal" ><tspan font-style="italic">Ceratopteris richardii</tspan> (7.46Gb)</text>
<path d="M539.45,208.4 L539.45,199.8 C539.95,198.50 541.45,194.22 542.45,192.00 C543.45,189.78 544.25,187.90 545.45,186.50 C546.65,185.10 548.32,183.92 549.65,183.60 C550.98,183.28 552.15,184.15 553.45,184.60 C554.75,185.05 555.95,185.95 557.45,186.30 C558.95,186.65 560.55,186.33 562.45,186.70 C564.35,187.07 567.02,188.03 568.85,188.50 C570.68,188.97 571.95,189.20 573.45,189.50 C574.95,189.80 576.52,190.12 577.85,190.30 C579.18,190.48 579.95,189.95 581.45,190.60 C582.95,191.25 585.02,193.33 586.85,194.20 C588.68,195.07 590.57,195.25 592.45,195.80 C594.33,196.35 596.32,196.83 598.15,197.50 C599.98,198.17 601.57,198.97 603.45,199.80 C605.33,200.63 607.45,201.72 609.45,202.50 C611.45,203.28 613.57,203.93 615.45,204.50 C617.33,205.07 618.25,205.48 620.75,205.90 C623.25,206.32 626.68,206.70 630.45,207.00 C634.22,207.30 638.35,207.50 643.35,207.70 C648.35,207.90 654.43,208.08 660.45,208.20 C666.47,208.32 676.28,208.37 679.45,208.40 L679.45,208.4 Z" fill="#d2aa94" stroke="none"/>
<path d="M539.45,199.80 C539.95,198.50 541.45,194.22 542.45,192.00 C543.45,189.78 544.25,187.90 545.45,186.50 C546.65,185.10 548.32,183.92 549.65,183.60 C550.98,183.28 552.15,184.15 553.45,184.60 C554.75,185.05 555.95,185.95 557.45,186.30 C558.95,186.65 560.55,186.33 562.45,186.70 C564.35,187.07 567.02,188.03 568.85,188.50 C570.68,188.97 571.95,189.20 573.45,189.50 C574.95,189.80 576.52,190.12 577.85,190.30 C579.18,190.48 579.95,189.95 581.45,190.60 C582.95,191.25 585.02,193.33 586.85,194.20 C588.68,195.07 590.57,195.25 592.45,195.80 C594.33,196.35 596.32,196.83 598.15,197.50 C599.98,198.17 601.57,198.97 603.45,199.80 C605.33,200.63 607.45,201.72 609.45,202.50 C611.45,203.28 613.57,203.93 615.45,204.50 C617.33,205.07 618.25,205.48 620.75,205.90 C623.25,206.32 626.68,206.70 630.45,207.00 C634.22,207.30 638.35,207.50 643.35,207.70 C648.35,207.90 654.43,208.08 660.45,208.20 C666.47,208.32 676.28,208.37 679.45,208.40" fill="none" stroke="#2a2a2a" stroke-width="0.7"/>
<text x="527.90" y="205.40" font-size="9.75" text-anchor="end" fill="#0d0d0d" font-weight="normal" font-style="normal" ><tspan font-style="italic">Brainea insignis</tspan> (8.62Gb)</text>
<text x="0.00" y="267.60" font-size="9" text-anchor="start" fill="#000" font-weight="bold" font-style="normal" >c</text>
<line x1="5.00" y1="428.30" x2="9.90" y2="428.30" stroke="#000" stroke-width="1.45" stroke-linecap="square"/>
<line x1="9.90" y1="403.29" x2="9.90" y2="457.80" stroke="#000" stroke-width="1.45" stroke-linecap="square"/>
<line x1="9.90" y1="403.29" x2="49.20" y2="403.29" stroke="#000" stroke-width="1.45" stroke-linecap="square"/>
<line x1="49.20" y1="359.38" x2="49.20" y2="447.20" stroke="#000" stroke-width="1.45" stroke-linecap="square"/>
<line x1="49.20" y1="359.38" x2="75.40" y2="359.38" stroke="#000" stroke-width="1.45" stroke-linecap="square"/>
<line x1="75.40" y1="318.68" x2="75.40" y2="400.08" stroke="#000" stroke-width="1.45" stroke-linecap="square"/>
<line x1="75.40" y1="318.68" x2="111.50" y2="318.68" stroke="#000" stroke-width="1.45" stroke-linecap="square"/>
<line x1="111.50" y1="306.75" x2="111.50" y2="330.60" stroke="#000" stroke-width="1.45" stroke-linecap="square"/>
<line x1="111.50" y1="306.75" x2="144.40" y2="306.75" stroke="#000" stroke-width="1.45" stroke-linecap="square"/>
<line x1="144.40" y1="298.80" x2="144.40" y2="314.70" stroke="#000" stroke-width="1.45" stroke-linecap="square"/>
<line x1="144.40" y1="298.80" x2="230.90" y2="298.80" stroke="#000" stroke-width="1.45" stroke-linecap="square"/>
<line x1="144.40" y1="314.70" x2="162.20" y2="314.70" stroke="#000" stroke-width="1.45" stroke-linecap="square"/>
<line x1="162.20" y1="309.40" x2="162.20" y2="320.00" stroke="#000" stroke-width="1.45" stroke-linecap="square"/>
<line x1="162.20" y1="309.40" x2="230.90" y2="309.40" stroke="#000" stroke-width="1.45" stroke-linecap="square"/>
<line x1="162.20" y1="320.00" x2="230.90" y2="320.00" stroke="#000" stroke-width="1.45" stroke-linecap="square"/>
<line x1="111.50" y1="330.60" x2="230.90" y2="330.60" stroke="#000" stroke-width="1.45" stroke-linecap="square"/>
<line x1="75.40" y1="400.08" x2="142.50" y2="400.08" stroke="#000" stroke-width="1.45" stroke-linecap="square"/>
<line x1="142.50" y1="363.56" x2="142.50" y2="436.60" stroke="#000" stroke-width="1.45" stroke-linecap="square"/>
<line x1="142.50" y1="363.56" x2="161.90" y2="363.56" stroke="#000" stroke-width="1.45" stroke-linecap="square"/>
<line x1="161.90" y1="346.50" x2="161.90" y2="380.62" stroke="#000" stroke-width="1.45" stroke-linecap="square"/>
<line x1="161.90" y1="346.50" x2="209.70" y2="346.50" stroke="#000" stroke-width="1.45" stroke-linecap="square"/>
<line x1="209.70" y1="341.20" x2="209.70" y2="351.80" stroke="#000" stroke-width="1.45" stroke-linecap="square"/>
<line x1="209.70" y1="341.20" x2="230.90" y2="341.20" stroke="#000" stroke-width="1.45" stroke-linecap="square"/>
<line x1="209.70" y1="351.80" x2="230.90" y2="351.80" stroke="#000" stroke-width="1.45" stroke-linecap="square"/>
<line x1="161.90" y1="380.62" x2="181.40" y2="380.62" stroke="#000" stroke-width="1.45" stroke-linecap="square"/>
<line x1="181.40" y1="367.70" x2="181.40" y2="393.54" stroke="#000" stroke-width="1.45" stroke-linecap="square"/>
<line x1="181.40" y1="367.70" x2="193.40" y2="367.70" stroke="#000" stroke-width="1.45" stroke-linecap="square"/>
<line x1="193.40" y1="362.40" x2="193.40" y2="373.00" stroke="#000" stroke-width="1.45" stroke-linecap="square"/>
<line x1="193.40" y1="362.40" x2="230.90" y2="362.40" stroke="#000" stroke-width="1.45" stroke-linecap="square"/>
<line x1="193.40" y1="373.00" x2="230.90" y2="373.00" stroke="#000" stroke-width="1.45" stroke-linecap="square"/>
<line x1="181.40" y1="393.54" x2="188.10" y2="393.54" stroke="#000" stroke-width="1.45" stroke-linecap="square"/>
<line x1="188.10" y1="383.60" x2="188.10" y2="403.48" stroke="#000" stroke-width="1.45" stroke-linecap="square"/>
<line x1="188.10" y1="383.60" x2="230.90" y2="383.60" stroke="#000" stroke-width="1.45" stroke-linecap="square"/>
<line x1="188.10" y1="403.48" x2="203.10" y2="403.48" stroke="#000" stroke-width="1.45" stroke-linecap="square"/>
<line x1="203.10" y1="394.20" x2="203.10" y2="412.75" stroke="#000" stroke-width="1.45" stroke-linecap="square"/>
<line x1="203.10" y1="394.20" x2="230.90" y2="394.20" stroke="#000" stroke-width="1.45" stroke-linecap="square"/>
<line x1="203.10" y1="412.75" x2="210.30" y2="412.75" stroke="#000" stroke-width="1.45" stroke-linecap="square"/>
<line x1="210.30" y1="404.80" x2="210.30" y2="420.70" stroke="#000" stroke-width="1.45" stroke-linecap="square"/>
<line x1="210.30" y1="404.80" x2="230.90" y2="404.80" stroke="#000" stroke-width="1.45" stroke-linecap="square"/>
<line x1="210.30" y1="420.70" x2="216.70" y2="420.70" stroke="#000" stroke-width="1.45" stroke-linecap="square"/>
<line x1="216.70" y1="415.40" x2="216.70" y2="426.00" stroke="#000" stroke-width="1.45" stroke-linecap="square"/>
<line x1="216.70" y1="415.40" x2="230.90" y2="415.40" stroke="#000" stroke-width="1.45" stroke-linecap="square"/>
<line x1="216.70" y1="426.00" x2="230.90" y2="426.00" stroke="#000" stroke-width="1.45" stroke-linecap="square"/>
<line x1="142.50" y1="436.60" x2="230.90" y2="436.60" stroke="#000" stroke-width="1.45" stroke-linecap="square"/>
<line x1="49.20" y1="447.20" x2="230.90" y2="447.20" stroke="#000" stroke-width="1.45" stroke-linecap="square"/>
<line x1="9.90" y1="457.80" x2="230.90" y2="457.80" stroke="#000" stroke-width="1.45" stroke-linecap="square"/>
<text transform="translate(230.50,297.60) scale(1,1.1)" font-size="7.65" text-anchor="end" fill="#000" font-weight="normal" font-style="normal" ><tspan fill="#ea6668">+37</tspan><tspan fill="#333">/</tspan><tspan fill="#4a98e0">-49</tspan></text>
<circle cx="237.7" cy="298.00" r="3.7" fill="#e06464"/>
<path d="M237.7,298.00 L237.7,294.30 A3.7,3.7 0 1 1 236.13,301.35 Z" fill="#4c98dc"/>
<text x="244.30" y="300.80" font-size="6.85" text-anchor="start" fill="#222" font-weight="normal" font-style="italic" >Amborella trichopoda</text>
<text transform="translate(230.50,308.20) scale(1,1.1)" font-size="7.65" text-anchor="end" fill="#000" font-weight="normal" font-style="normal" ><tspan fill="#ea6668">+123</tspan><tspan fill="#333">/</tspan><tspan fill="#4a98e0">-13</tspan></text>
<circle cx="237.7" cy="308.60" r="3.7" fill="#e06464"/>
<path d="M237.7,308.60 L237.7,304.90 A3.7,3.7 0 0 1 239.79,305.55 Z" fill="#4c98dc"/>
<text x="244.30" y="311.40" font-size="6.85" text-anchor="start" fill="#222" font-weight="normal" font-style="normal" >Oryza sativa</text>
<text transform="translate(230.50,318.80) scale(1,1.1)" font-size="7.65" text-anchor="end" fill="#000" font-weight="normal" font-style="normal" ><tspan fill="#ea6668">+86</tspan><tspan fill="#333">/</tspan><tspan fill="#4a98e0">-34</tspan></text>
<circle cx="237.7" cy="319.20" r="3.7" fill="#e06464"/>
<path d="M237.7,319.20 L237.7,315.50 A3.7,3.7 0 0 1 241.32,319.97 Z" fill="#4c98dc"/>
<text x="244.30" y="322.00" font-size="6.85" text-anchor="start" fill="#222" font-weight="normal" font-style="italic" >Arabidopsis thaliana</text>
<text transform="translate(230.50,329.40) scale(1,1.1)" font-size="7.65" text-anchor="end" fill="#000" font-weight="normal" font-style="normal" ><tspan fill="#ea6668">+133</tspan><tspan fill="#333">/</tspan><tspan fill="#4a98e0">-18</tspan></text>
<circle cx="237.7" cy="329.80" r="3.7" fill="#e06464"/>
<path d="M237.7,329.80 L237.7,326.10 A3.7,3.7 0 0 1 240.22,327.09 Z" fill="#4c98dc"/>
<text x="244.30" y="332.60" font-size="6.85" text-anchor="start" fill="#222" font-weight="normal" font-style="italic" >Ginkgo biloba</text>
<text transform="translate(230.50,340.00) scale(1,1.1)" font-size="7.65" text-anchor="end" fill="#000" font-weight="normal" font-style="normal" ><tspan fill="#ea6668">+91</tspan><tspan fill="#333">/</tspan><tspan fill="#4a98e0">-117</tspan></text>
<circle cx="237.7" cy="340.40" r="3.7" fill="#e06464"/>
<path d="M237.7,340.40 L237.7,336.70 A3.7,3.7 0 1 1 236.28,343.82 Z" fill="#4c98dc"/>
<text x="244.30" y="343.20" font-size="6.85" text-anchor="start" fill="#222" font-weight="normal" font-style="italic" >Sphaeropteris lepifera</text>
<text transform="translate(230.50,350.60) scale(1,1.1)" font-size="7.65" text-anchor="end" fill="#000" font-weight="normal" font-style="normal" ><tspan fill="#ea6668">+446</tspan><tspan fill="#333">/</tspan><tspan fill="#4a98e0">-33</tspan></text>
<circle cx="237.7" cy="351.00" r="3.7" fill="#e06464"/>
<path d="M237.7,351.00 L237.7,347.30 A3.7,3.7 0 0 1 239.25,347.64 Z" fill="#4c98dc"/>
<text x="244.30" y="353.80" font-size="6.85" text-anchor="start" fill="#222" font-weight="normal" font-style="italic" >Alsophila spinulosa</text>
<text transform="translate(230.50,361.20) scale(1,1.1)" font-size="7.65" text-anchor="end" fill="#000" font-weight="normal" font-style="normal" ><tspan fill="#ea6668">+239</tspan><tspan fill="#333">/</tspan><tspan fill="#4a98e0">-67</tspan></text>
<circle cx="237.7" cy="361.60" r="3.7" fill="#e06464"/>
<path d="M237.7,361.60 L237.7,357.90 A3.7,3.7 0 0 1 241.33,360.88 Z" fill="#4c98dc"/>
<text x="244.30" y="364.40" font-size="6.85" text-anchor="start" fill="#222" font-weight="normal" font-style="italic" >Ceratopteris richardii</text>
<text transform="translate(230.50,371.80) scale(1,1.1)" font-size="7.65" text-anchor="end" fill="#000" font-weight="normal" font-style="normal" ><tspan fill="#ea6668">+70</tspan><tspan fill="#333">/</tspan><tspan fill="#4a98e0">-119</tspan></text>
<circle cx="237.7" cy="372.20" r="3.7" fill="#e06464"/>
<path d="M237.7,372.20 L237.7,368.50 A3.7,3.7 0 1 1 235.01,374.74 Z" fill="#4c98dc"/>
<text x="244.30" y="375.00" font-size="6.85" text-anchor="start" fill="#222" font-weight="normal" font-style="italic" >Adiantum capillus-veneris</text>
<text transform="translate(230.50,382.40) scale(1,1.1)" font-size="7.65" text-anchor="end" fill="#000" font-weight="normal" font-style="normal" ><tspan fill="#ea6668">+614</tspan><tspan fill="#333">/</tspan><tspan fill="#4a98e0">-97</tspan></text>
<circle cx="237.7" cy="382.80" r="3.7" fill="#e06464"/>
<path d="M237.7,382.80 L237.7,379.10 A3.7,3.7 0 0 1 240.50,380.38 Z" fill="#4c98dc"/>
<text x="244.30" y="385.60" font-size="6.85" text-anchor="start" fill="#222" font-weight="normal" font-style="italic" >Hiya brooksiae</text>
<text transform="translate(230.50,393.00) scale(1,1.1)" font-size="7.65" text-anchor="end" fill="#000" font-weight="normal" font-style="normal" ><tspan fill="#ea6668">+88</tspan><tspan fill="#333">/</tspan><tspan fill="#4a98e0">-261</tspan></text>
<circle cx="237.7" cy="393.40" r="3.7" fill="#e06464"/>
<path d="M237.7,393.40 L237.7,389.70 A3.7,3.7 0 1 1 234.00,393.45 Z" fill="#4c98dc"/>
<text x="244.30" y="396.20" font-size="6.85" text-anchor="start" fill="#222" font-weight="normal" font-style="italic" >Nephrolepis cordifolia</text>
<text transform="translate(230.50,403.60) scale(1,1.1)" font-size="7.65" text-anchor="end" fill="#000" font-weight="normal" font-style="normal" ><tspan fill="#ea6668">+312</tspan><tspan fill="#333">/</tspan><tspan fill="#4a98e0">-122</tspan></text>
<circle cx="237.7" cy="404.00" r="3.7" fill="#e06464"/>
<path d="M237.7,404.00 L237.7,400.30 A3.7,3.7 0 0 1 241.33,404.72 Z" fill="#4c98dc"/>
<text x="244.30" y="406.80" font-size="6.85" text-anchor="start" fill="#222" font-weight="normal" font-style="italic" >Rhachidosorus mesosorus</text>
<text transform="translate(230.50,414.20) scale(1,1.1)" font-size="7.65" text-anchor="end" fill="#000" font-weight="normal" font-style="normal" ><tspan fill="#ea6668">+222</tspan><tspan fill="#333">/</tspan><tspan fill="#4a98e0">-131</tspan></text>
<circle cx="237.7" cy="414.60" r="3.7" fill="#e06464"/>
<path d="M237.7,414.60 L237.7,410.90 A3.7,3.7 0 0 1 240.38,417.15 Z" fill="#4c98dc"/>
<text x="244.30" y="417.40" font-size="6.85" text-anchor="start" fill="#222" font-weight="normal" font-style="italic" >Woodwardia prolifera</text>
<text transform="translate(230.50,424.80) scale(1,1.1)" font-size="7.65" text-anchor="end" fill="#000" font-weight="normal" font-style="normal" ><tspan fill="#ea6668">+353</tspan><tspan fill="#333">/</tspan><tspan fill="#4a98e0">-200</tspan></text>
<circle cx="237.7" cy="425.20" r="3.7" fill="#e06464"/>
<path d="M237.7,425.20 L237.7,421.50 A3.7,3.7 0 0 1 240.53,427.59 Z" fill="#4c98dc"/>
<text x="244.30" y="428.00" font-size="6.85" text-anchor="start" fill="#222" font-weight="normal" font-style="italic" >Brainea insignis</text>
<text transform="translate(230.50,435.40) scale(1,1.1)" font-size="7.65" text-anchor="end" fill="#000" font-weight="normal" font-style="normal" ><tspan fill="#ea6668">+67</tspan><tspan fill="#333">/</tspan><tspan fill="#4a98e0">-127</tspan></text>
<circle cx="237.7" cy="435.80" r="3.7" fill="#e06464"/>
<path d="M237.7,435.80 L237.7,432.10 A3.7,3.7 0 1 1 234.64,437.89 Z" fill="#4c98dc"/>
<text x="244.30" y="438.60" font-size="6.85" text-anchor="start" fill="#222" font-weight="normal" font-style="italic" >Marsilea vestita</text>
<text transform="translate(230.50,446.00) scale(1,1.1)" font-size="7.65" text-anchor="end" fill="#000" font-weight="normal" font-style="normal" ><tspan fill="#ea6668">+33</tspan><tspan fill="#333">/</tspan><tspan fill="#4a98e0">-34</tspan></text>
<circle cx="237.7" cy="446.40" r="3.7" fill="#e06464"/>
<path d="M237.7,446.40 L237.7,442.70 A3.7,3.7 0 1 1 237.53,450.10 Z" fill="#4c98dc"/>
<text x="244.30" y="449.20" font-size="6.85" text-anchor="start" fill="#222" font-weight="normal" font-style="italic" >Selaginella moellendorffii</text>
<text transform="translate(230.50,456.60) scale(1,1.1)" font-size="7.65" text-anchor="end" fill="#000" font-weight="normal" font-style="normal" ><tspan fill="#ea6668">+77</tspan><tspan fill="#333">/</tspan><tspan fill="#4a98e0">-0</tspan></text>
<circle cx="237.7" cy="457.00" r="3.7" fill="#e06464"/>
<text x="244.30" y="459.80" font-size="6.85" text-anchor="start" fill="#222" font-weight="normal" font-style="italic" >Physcomitrium patens</text>
<defs>
<linearGradient id="gp" x1="0" x2="1" y1="0" y2="0"><stop offset="0.04" stop-color="#9b59b6" stop-opacity="0"/><stop offset="0.55" stop-color="#9b59b6" stop-opacity="0.13"/><stop offset="1" stop-color="#9b59b6" stop-opacity="0.33"/></linearGradient>
<linearGradient id="gg" x1="0" x2="1" y1="0" y2="0"><stop offset="0.04" stop-color="#4caf50" stop-opacity="0"/><stop offset="0.55" stop-color="#4caf50" stop-opacity="0.14"/><stop offset="1" stop-color="#4caf50" stop-opacity="0.3"/></linearGradient>
<linearGradient id="gb" x1="0" x2="1" y1="0" y2="0"><stop offset="0.08" stop-color="#2f7fd0" stop-opacity="0"/><stop offset="0.55" stop-color="#2f7fd0" stop-opacity="0.2"/><stop offset="1" stop-color="#2f7fd0" stop-opacity="0.42"/></linearGradient>
<linearGradient id="gr" x1="0" x2="1" y1="0" y2="0"><stop offset="0.08" stop-color="#e53935" stop-opacity="0"/><stop offset="0.55" stop-color="#e53935" stop-opacity="0.2"/><stop offset="1" stop-color="#e53935" stop-opacity="0.55"/></linearGradient>
<linearGradient id="pv" x1="0" x2="0" y1="0" y2="1"><stop offset="0" stop-color="#3a00ff"/><stop offset="0.5" stop-color="#b0008a"/><stop offset="1" stop-color="#ff0000"/></linearGradient>
</defs>
<rect x="0" y="289.2" width="327" height="43.5" fill="url(#gp)"/>
<rect x="0" y="332.7" width="327" height="107.1" fill="url(#gg)"/>
<rect x="0" y="439.8" width="327" height="10.6" fill="url(#gb)"/>
<rect x="0" y="450.4" width="327" height="13.2" fill="url(#gr)"/>
<text transform="translate(0.50,302.70) scale(1,1.08)" font-size="7.63" text-anchor="start" fill="#0d0d0d" font-weight="normal" font-style="normal" >Gene families change (p&lt;0.05)</text>
<text transform="translate(14.00,311.90) scale(1,1.08)" font-size="7.63" text-anchor="start" fill="#000" font-weight="normal" font-style="normal" ><tspan fill="#ea6668">Expansion</tspan><tspan fill="#333">/</tspan><tspan fill="#4a98e0">Contraction</tspan></text>
<line x1="5.3" y1="468.9" x2="231" y2="468.9" stroke="#222" stroke-width="1.2"/>
<line x1="230.80" y1="466.9" x2="230.80" y2="468.9" stroke="#222" stroke-width="1"/>
<text transform="translate(230.80,478.60) scale(1,1.05)" font-size="7.8" text-anchor="middle" fill="#333" font-weight="normal" font-style="normal" >0</text>
<line x1="186.72" y1="466.9" x2="186.72" y2="468.9" stroke="#222" stroke-width="1"/>
<text transform="translate(186.72,478.60) scale(1,1.05)" font-size="7.8" text-anchor="middle" fill="#333" font-weight="normal" font-style="normal" >100</text>
<line x1="142.64" y1="466.9" x2="142.64" y2="468.9" stroke="#222" stroke-width="1"/>
<text transform="translate(142.64,478.60) scale(1,1.05)" font-size="7.8" text-anchor="middle" fill="#333" font-weight="normal" font-style="normal" >200</text>
<line x1="98.56" y1="466.9" x2="98.56" y2="468.9" stroke="#222" stroke-width="1"/>
<text transform="translate(98.56,478.60) scale(1,1.05)" font-size="7.8" text-anchor="middle" fill="#333" font-weight="normal" font-style="normal" >300</text>
<line x1="54.48" y1="466.9" x2="54.48" y2="468.9" stroke="#222" stroke-width="1"/>
<text transform="translate(54.48,478.60) scale(1,1.05)" font-size="7.8" text-anchor="middle" fill="#333" font-weight="normal" font-style="normal" >400</text>
<line x1="10.40" y1="466.9" x2="10.40" y2="468.9" stroke="#222" stroke-width="1"/>
<text transform="translate(11.20,478.60) scale(1,1.05)" font-size="7.8" text-anchor="middle" fill="#333" font-weight="normal" font-style="normal" >500</text>
<text x="233.40" y="470.80" font-size="8" text-anchor="start" fill="#0d0d0d" font-weight="normal" font-style="normal" >Mya</text>
<text x="377.30" y="267.30" font-size="9" text-anchor="start" fill="#000" font-weight="bold" font-style="normal" >d</text>
<rect x="544.2" y="286.7" width="92.2" height="176.7" fill="#fff"/>
<line x1="547.80" y1="286.7" x2="547.80" y2="463.4" stroke="#e6e6e6" stroke-width="0.9"/>
<line x1="560.87" y1="286.7" x2="560.87" y2="463.4" stroke="#e6e6e6" stroke-width="0.9"/>
<line x1="573.94" y1="286.7" x2="573.94" y2="463.4" stroke="#e6e6e6" stroke-width="0.9"/>
<line x1="587.01" y1="286.7" x2="587.01" y2="463.4" stroke="#e6e6e6" stroke-width="0.9"/>
<line x1="600.08" y1="286.7" x2="600.08" y2="463.4" stroke="#e6e6e6" stroke-width="0.9"/>
<line x1="613.15" y1="286.7" x2="613.15" y2="463.4" stroke="#e6e6e6" stroke-width="0.9"/>
<line x1="626.22" y1="286.7" x2="626.22" y2="463.4" stroke="#e6e6e6" stroke-width="0.9"/>
<line x1="544.2" y1="291.40" x2="636.4" y2="291.40" stroke="#e6e6e6" stroke-width="0.9"/>
<line x1="544.2" y1="300.20" x2="636.4" y2="300.20" stroke="#e6e6e6" stroke-width="0.9"/>
<line x1="544.2" y1="309.01" x2="636.4" y2="309.01" stroke="#e6e6e6" stroke-width="0.9"/>
<line x1="544.2" y1="317.81" x2="636.4" y2="317.81" stroke="#e6e6e6" stroke-width="0.9"/>
<line x1="544.2" y1="326.62" x2="636.4" y2="326.62" stroke="#e6e6e6" stroke-width="0.9"/>
<line x1="544.2" y1="335.42" x2="636.4" y2="335.42" stroke="#e6e6e6" stroke-width="0.9"/>
<line x1="544.2" y1="344.23" x2="636.4" y2="344.23" stroke="#e6e6e6" stroke-width="0.9"/>
<line x1="544.2" y1="353.03" x2="636.4" y2="353.03" stroke="#e6e6e6" stroke-width="0.9"/>
<line x1="544.2" y1="361.84" x2="636.4" y2="361.84" stroke="#e6e6e6" stroke-width="0.9"/>
<line x1="544.2" y1="370.64" x2="636.4" y2="370.64" stroke="#e6e6e6" stroke-width="0.9"/>
<line x1="544.2" y1="379.45" x2="636.4" y2="379.45" stroke="#e6e6e6" stroke-width="0.9"/>
<line x1="544.2" y1="388.25" x2="636.4" y2="388.25" stroke="#e6e6e6" stroke-width="0.9"/>
<line x1="544.2" y1="397.06" x2="636.4" y2="397.06" stroke="#e6e6e6" stroke-width="0.9"/>
<line x1="544.2" y1="405.87" x2="636.4" y2="405.87" stroke="#e6e6e6" stroke-width="0.9"/>
<line x1="544.2" y1="414.67" x2="636.4" y2="414.67" stroke="#e6e6e6" stroke-width="0.9"/>
<line x1="544.2" y1="423.47" x2="636.4" y2="423.47" stroke="#e6e6e6" stroke-width="0.9"/>
<line x1="544.2" y1="432.28" x2="636.4" y2="432.28" stroke="#e6e6e6" stroke-width="0.9"/>
<line x1="544.2" y1="441.08" x2="636.4" y2="441.08" stroke="#e6e6e6" stroke-width="0.9"/>
<line x1="544.2" y1="449.89" x2="636.4" y2="449.89" stroke="#e6e6e6" stroke-width="0.9"/>
<line x1="544.2" y1="458.69" x2="636.4" y2="458.69" stroke="#e6e6e6" stroke-width="0.9"/>
<rect x="544.2" y="286.7" width="92.2" height="176.7" fill="none" stroke="#000" stroke-width="1.4"/>
<line x1="542.2" y1="291.40" x2="544.2" y2="291.40" stroke="#333" stroke-width="1"/>
<text x="538.40" y="294.30" font-size="7.45" text-anchor="end" fill="#000" font-weight="normal" font-style="normal" >GO:0071554 cell wall organization or biogenesis</text>
<circle cx="577.86" cy="291.40" r="2.9" fill="#ff1a1a"/>
<line x1="542.2" y1="300.20" x2="544.2" y2="300.20" stroke="#333" stroke-width="1"/>
<text x="538.40" y="303.80" font-size="7.45" text-anchor="end" fill="#8e8e8e" font-weight="normal" font-style="normal" >GO:0045229 external encapsulating structure organization</text>
<circle cx="581.00" cy="300.20" r="2.6" fill="#ff1a1a"/>
<line x1="542.2" y1="309.01" x2="544.2" y2="309.01" stroke="#333" stroke-width="1"/>
<text x="538.40" y="312.40" font-size="7.45" text-anchor="end" fill="#000" font-weight="normal" font-style="normal" >GO:0071555 cell wall organization</text>
<circle cx="581.00" cy="309.01" r="2.6" fill="#ff1a1a"/>
<line x1="542.2" y1="317.81" x2="544.2" y2="317.81" stroke="#333" stroke-width="1"/>
<text x="538.40" y="319.90" font-size="7.45" text-anchor="end" fill="#000" font-weight="normal" font-style="normal" >GO:0009808 lignin metabolic process</text>
<circle cx="625.96" cy="317.81" r="1.9" fill="#ff1a1a"/>
<line x1="542.2" y1="326.62" x2="544.2" y2="326.62" stroke="#333" stroke-width="1"/>
<text x="538.40" y="328.40" font-size="7.45" text-anchor="end" fill="#8e8e8e" font-weight="normal" font-style="normal" >GO:0046271 phenylpropanoid catabolic process</text>
<circle cx="625.96" cy="326.62" r="1.9" fill="#ff1a1a"/>
<line x1="542.2" y1="335.42" x2="544.2" y2="335.42" stroke="#333" stroke-width="1"/>
<text x="538.40" y="337.30" font-size="7.45" text-anchor="end" fill="#000" font-weight="normal" font-style="normal" >GO:0046274 lignin catabolic process</text>
<circle cx="625.96" cy="335.42" r="1.9" fill="#ff1a1a"/>
<line x1="542.2" y1="344.23" x2="544.2" y2="344.23" stroke="#333" stroke-width="1"/>
<text x="538.40" y="346.00" font-size="7.45" text-anchor="end" fill="#000" font-weight="normal" font-style="normal" >GO:0009664 plant-type cell wall organization</text>
<circle cx="591.19" cy="344.23" r="2.3" fill="#ff1a1a"/>
<line x1="542.2" y1="353.03" x2="544.2" y2="353.03" stroke="#333" stroke-width="1"/>
<text x="538.40" y="355.20" font-size="7.45" text-anchor="end" fill="#000" font-weight="normal" font-style="normal" >GO:0071669 plant-type cell wall organization or biogenesis</text>
<circle cx="587.01" cy="353.03" r="2.2" fill="#ff1a1a"/>
<line x1="542.2" y1="361.84" x2="544.2" y2="361.84" stroke="#333" stroke-width="1"/>
<text x="538.40" y="363.60" font-size="7.45" text-anchor="end" fill="#000" font-weight="normal" font-style="normal" >GO:0010383 cell wall polysaccharide metabolic process</text>
<circle cx="591.19" cy="361.84" r="2.0" fill="#ff1a1a"/>
<line x1="542.2" y1="370.64" x2="544.2" y2="370.64" stroke="#333" stroke-width="1"/>
<text x="538.40" y="372.40" font-size="7.45" text-anchor="end" fill="#8e8e8e" font-weight="normal" font-style="normal" >GO:0010410 hemicellulose metabolic process</text>
<circle cx="591.19" cy="370.64" r="2.0" fill="#ff1a1a"/>
<line x1="542.2" y1="379.45" x2="544.2" y2="379.45" stroke="#333" stroke-width="1"/>
<text x="538.40" y="381.10" font-size="7.45" text-anchor="end" fill="#8e8e8e" font-weight="normal" font-style="normal" >GO:0070588 calcium ion transmembrane transport</text>
<circle cx="606.61" cy="379.45" r="1.9" fill="#ff1a1a"/>
<line x1="542.2" y1="388.25" x2="544.2" y2="388.25" stroke="#333" stroke-width="1"/>
<text x="538.40" y="390.00" font-size="7.45" text-anchor="end" fill="#000" font-weight="normal" font-style="normal" >GO:0044036 cell wall macromolecule metabolic process</text>
<circle cx="577.34" cy="388.25" r="2.2" fill="#ff1a1a"/>
<line x1="542.2" y1="397.06" x2="544.2" y2="397.06" stroke="#333" stroke-width="1"/>
<text x="538.40" y="399.00" font-size="7.45" text-anchor="end" fill="#8e8e8e" font-weight="normal" font-style="normal" >GO:0006369 termination of RNA polymerase II transcription</text>
<circle cx="620.60" cy="397.06" r="1.7" fill="#ff1a1a"/>
<line x1="542.2" y1="405.87" x2="544.2" y2="405.87" stroke="#333" stroke-width="1"/>
<text x="538.40" y="408.20" font-size="7.45" text-anchor="end" fill="#8e8e8e" font-weight="normal" font-style="normal" >GO:0009698 phenylpropanoid metabolic process</text>
<circle cx="587.01" cy="405.87" r="2.1" fill="#ff1a1a"/>
<line x1="542.2" y1="414.67" x2="544.2" y2="414.67" stroke="#333" stroke-width="1"/>
<text x="538.40" y="416.80" font-size="7.45" text-anchor="end" fill="#8e8e8e" font-weight="normal" font-style="normal" >GO:0006378 mRNA polyadenylation</text>
<circle cx="609.62" cy="414.67" r="1.9" fill="#ff1a1a"/>
<line x1="542.2" y1="423.47" x2="544.2" y2="423.47" stroke="#333" stroke-width="1"/>
<text x="538.40" y="426.00" font-size="7.45" text-anchor="end" fill="#8e8e8e" font-weight="normal" font-style="normal" >GO:0005976 polysaccharide metabolic process</text>
<circle cx="554.99" cy="423.47" r="2.5" fill="#d0106e"/>
<line x1="542.2" y1="432.28" x2="544.2" y2="432.28" stroke="#333" stroke-width="1"/>
<text x="538.40" y="435.00" font-size="7.45" text-anchor="end" fill="#8e8e8e" font-weight="normal" font-style="normal" >GO:0006353 DNA-templated transcription, termination</text>
<circle cx="611.84" cy="432.28" r="1.6" fill="#b0169e"/>
<line x1="542.2" y1="441.08" x2="544.2" y2="441.08" stroke="#333" stroke-width="1"/>
<text x="538.40" y="445.10" font-size="7.45" text-anchor="end" fill="#8e8e8e" font-weight="normal" font-style="normal" >GO:0006379 mRNA cleavage</text>
<circle cx="611.84" cy="441.08" r="1.6" fill="#b0169e"/>
<line x1="542.2" y1="449.89" x2="544.2" y2="449.89" stroke="#333" stroke-width="1"/>
<text x="538.40" y="454.60" font-size="7.45" text-anchor="end" fill="#8e8e8e" font-weight="normal" font-style="normal" >GO:0019748 secondary metabolic process</text>
<circle cx="577.86" cy="449.89" r="2.1" fill="#2a1aff"/>
<line x1="542.2" y1="458.69" x2="544.2" y2="458.69" stroke="#333" stroke-width="1"/>
<text x="538.40" y="463.60" font-size="7.45" text-anchor="end" fill="#8e8e8e" font-weight="normal" font-style="normal" >GO:0006835 dicarboxylic acid transport</text>
<circle cx="625.96" cy="458.69" r="1.3" fill="#2a1aff"/>
<text x="547.80" y="474.00" font-size="7.2" text-anchor="middle" fill="#333" font-weight="normal" font-style="normal" >0.4</text>
<text x="573.94" y="474.00" font-size="7.2" text-anchor="middle" fill="#333" font-weight="normal" font-style="normal" >0.6</text>
<text x="600.08" y="474.00" font-size="7.2" text-anchor="middle" fill="#333" font-weight="normal" font-style="normal" >0.8</text>
<text x="626.22" y="474.00" font-size="7.2" text-anchor="middle" fill="#333" font-weight="normal" font-style="normal" >1.0</text>
<text x="592.00" y="487.00" font-size="7.5" text-anchor="middle" fill="#222" font-weight="normal" font-style="normal" >RichFactor</text>
<text transform="translate(640.70,332.50) scale(1,1.12)" font-size="7.2" text-anchor="start" fill="#050505" font-weight="normal" font-style="normal" >GeneNumber</text>
<circle cx="654.6" cy="340" r="1.6" fill="#000"/>
<text transform="translate(659.80,342.70) scale(1,1.12)" font-size="7.1" text-anchor="start" fill="#050505" font-weight="normal" font-style="normal" >25</text>
<circle cx="654.6" cy="347.2" r="2.1" fill="#000"/>
<text transform="translate(659.80,349.90) scale(1,1.12)" font-size="7.1" text-anchor="start" fill="#050505" font-weight="normal" font-style="normal" >50</text>
<circle cx="654.6" cy="355.3" r="2.45" fill="#000"/>
<text transform="translate(659.80,358.00) scale(1,1.12)" font-size="7.1" text-anchor="start" fill="#050505" font-weight="normal" font-style="normal" >75</text>
<circle cx="654.6" cy="364.8" r="2.8" fill="#000"/>
<text transform="translate(659.80,367.50) scale(1,1.12)" font-size="7.1" text-anchor="start" fill="#050505" font-weight="normal" font-style="normal" >100</text>
<text transform="translate(641.90,388.60) scale(1,1.12)" font-size="7.4" text-anchor="start" fill="#050505" font-weight="normal" font-style="normal" >pvalue</text>
<rect x="642" y="393.3" width="7.9" height="38.4" fill="url(#pv)"/>
<line x1="642" y1="396.3" x2="643.5" y2="396.3" stroke="#fff" stroke-width="0.7"/>
<line x1="648.4" y1="396.3" x2="649.9" y2="396.3" stroke="#fff" stroke-width="0.7"/>
<text x="651.50" y="399.00" font-size="7.4" text-anchor="start" fill="#0d0d0d" font-weight="normal" font-style="normal" >9.40e-19</text>
<line x1="642" y1="403.8" x2="643.5" y2="403.8" stroke="#fff" stroke-width="0.7"/>
<line x1="648.4" y1="403.8" x2="649.9" y2="403.8" stroke="#fff" stroke-width="0.7"/>
<text x="651.50" y="406.50" font-size="7.4" text-anchor="start" fill="#0d0d0d" font-weight="normal" font-style="normal" >7.05e-19</text>
<line x1="642" y1="411.3" x2="643.5" y2="411.3" stroke="#fff" stroke-width="0.7"/>
<line x1="648.4" y1="411.3" x2="649.9" y2="411.3" stroke="#fff" stroke-width="0.7"/>
<text x="651.50" y="414.00" font-size="7.4" text-anchor="start" fill="#0d0d0d" font-weight="normal" font-style="normal" >4.70e-19</text>
<line x1="642" y1="419.3" x2="643.5" y2="419.3" stroke="#fff" stroke-width="0.7"/>
<line x1="648.4" y1="419.3" x2="649.9" y2="419.3" stroke="#fff" stroke-width="0.7"/>
<text x="651.50" y="422.00" font-size="7.4" text-anchor="start" fill="#0d0d0d" font-weight="normal" font-style="normal" >2.35e-19</text>
<line x1="642" y1="426.8" x2="643.5" y2="426.8" stroke="#fff" stroke-width="0.7"/>
<line x1="648.4" y1="426.8" x2="649.9" y2="426.8" stroke="#fff" stroke-width="0.7"/>
<text x="651.50" y="429.50" font-size="7.4" text-anchor="start" fill="#0d0d0d" font-weight="normal" font-style="normal" >7.00e-63</text>
</svg>
</body></html>
